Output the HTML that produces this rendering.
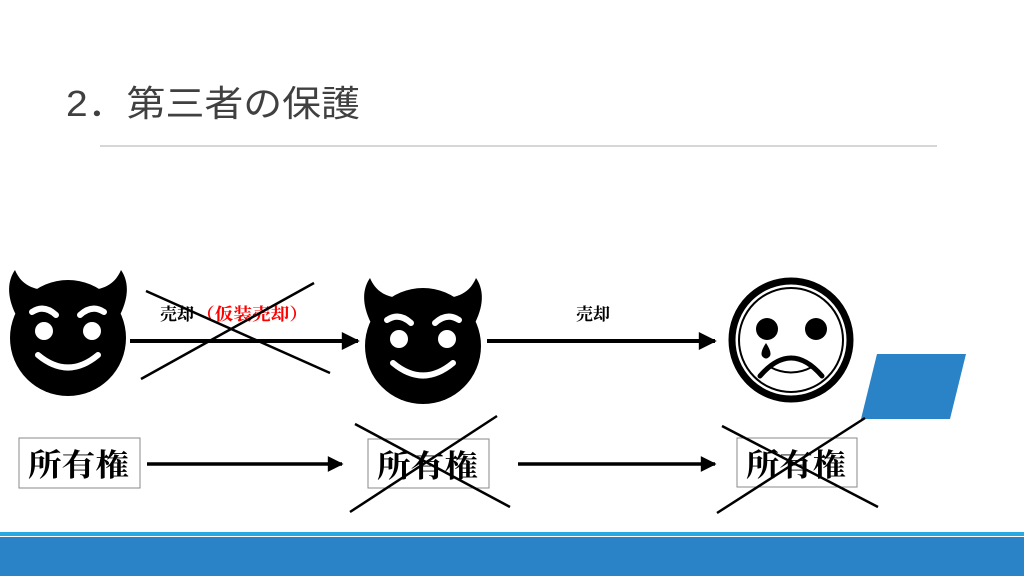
<!DOCTYPE html>
<html><head><meta charset="utf-8"><style>
html,body{margin:0;padding:0;background:#fff;}
svg{display:block;}
</style></head><body>
<svg width="1024" height="576" viewBox="0 0 1024 576" xmlns="http://www.w3.org/2000/svg">
<defs>
<marker id="ah" viewBox="0 0 10 10" refX="9" refY="5" markerWidth="5" markerHeight="4.5" orient="auto" markerUnits="strokeWidth"><path d="M0,0 L10,5 L0,10 z" fill="#000"/></marker>
<g id="devil">
  <circle cx="0" cy="8" r="58" fill="#000"/>
  <path d="M-52,-15 C-62,-35 -60,-50 -53,-60 C-48,-48 -38,-40 -20,-40 Z" fill="#000"/>
  <path d="M52,-15 C62,-35 60,-50 53,-60 C48,-48 38,-40 20,-40 Z" fill="#000"/>
  <circle cx="-24" cy="1" r="9" fill="#fff"/>
  <circle cx="24" cy="1" r="9" fill="#fff"/>
  <path d="M-36,-18 Q-24,-26 -12,-15" stroke="#fff" stroke-width="6" fill="none" stroke-linecap="round"/>
  <path d="M36,-18 Q24,-26 12,-15" stroke="#fff" stroke-width="6" fill="none" stroke-linecap="round"/>
  <path d="M-30,25 Q0,50 30,25" stroke="#fff" stroke-width="6" fill="none" stroke-linecap="round"/>
</g>
</defs>
<text x="66" y="116" font-family="'Liberation Sans','Noto Sans CJK JP',sans-serif" font-size="36" fill="#404040" textLength="294" lengthAdjust="spacingAndGlyphs">2．第三者の保護</text>
<line x1="100" y1="146" x2="937" y2="146" stroke="#c8c8c8" stroke-width="1.5"/>

<use href="#devil" x="68" y="330"/>
<use href="#devil" x="423" y="338"/>

<line x1="130" y1="341" x2="358" y2="341" stroke="#000" stroke-width="4" marker-end="url(#ah)"/>
<line x1="487" y1="341" x2="715" y2="341" stroke="#000" stroke-width="4" marker-end="url(#ah)"/>
<text x="160" y="320" font-family="'Liberation Serif','Noto Serif CJK SC',serif" font-size="17" font-weight="bold" fill="#000">売却</text>
<text x="196" y="320" font-family="'Liberation Serif','Noto Serif CJK SC',serif" font-size="17" font-weight="bold" fill="#ff0000" textLength="112" lengthAdjust="spacingAndGlyphs">（仮装売却）</text>
<text x="576" y="320" font-family="'Liberation Serif','Noto Serif CJK SC',serif" font-size="17" font-weight="bold" fill="#000">売却</text>
<line x1="146" y1="291" x2="330" y2="373" stroke="#000" stroke-width="2.5"/>
<line x1="141" y1="379" x2="314" y2="283" stroke="#000" stroke-width="2.5"/>

<circle cx="791" cy="340" r="59" fill="none" stroke="#000" stroke-width="7"/>
<circle cx="791" cy="340" r="52" fill="none" stroke="#000" stroke-width="2"/>
<circle cx="767" cy="329" r="11" fill="#000"/>
<circle cx="816" cy="329" r="11" fill="#000"/>
<path d="M766,343 Q760,352 762,356 Q766,361 770,356 Q772,352 766,343 Z" fill="#000"/>
<path d="M760,376 Q791,340 822,376" stroke="#000" stroke-width="5" fill="none" stroke-linecap="round"/>
<path d="M770,367 Q791,378 812,367" stroke="#000" stroke-width="2" fill="none"/>

<polygon points="877,354 966,354 950,419 861,419" fill="#2a83c6"/>

<rect x="19" y="438" width="121" height="50" fill="#fff" stroke="#888" stroke-width="1"/>
<rect x="368" y="439" width="121" height="49" fill="#fff" stroke="#888" stroke-width="1"/>
<rect x="737" y="438" width="120" height="49" fill="#fff" stroke="#888" stroke-width="1"/>
<g font-family="'Liberation Serif','Noto Serif CJK SC',serif" font-size="31" font-weight="bold" fill="#000">
<text x="28" y="476" textLength="101" lengthAdjust="spacingAndGlyphs">所有権</text>
<text x="377" y="477" textLength="101" lengthAdjust="spacingAndGlyphs">所有権</text>
<text x="746" y="476" textLength="100" lengthAdjust="spacingAndGlyphs">所有権</text>
</g>
<line x1="147" y1="464" x2="342" y2="464" stroke="#000" stroke-width="3.5" marker-end="url(#ah)"/>
<line x1="518" y1="464" x2="715" y2="464" stroke="#000" stroke-width="3.5" marker-end="url(#ah)"/>

<line x1="355" y1="424" x2="510" y2="507" stroke="#000" stroke-width="2.5"/>
<line x1="350" y1="512" x2="497" y2="416" stroke="#000" stroke-width="2.5"/>
<line x1="722" y1="426" x2="878" y2="507" stroke="#000" stroke-width="2.5"/>
<line x1="717" y1="513" x2="865" y2="418" stroke="#000" stroke-width="2.5"/>

<rect x="0" y="532" width="1024" height="4" fill="#29a9e1"/>
<rect x="0" y="537" width="1024" height="39" fill="#2a83c6"/>
</svg>
</body></html>
